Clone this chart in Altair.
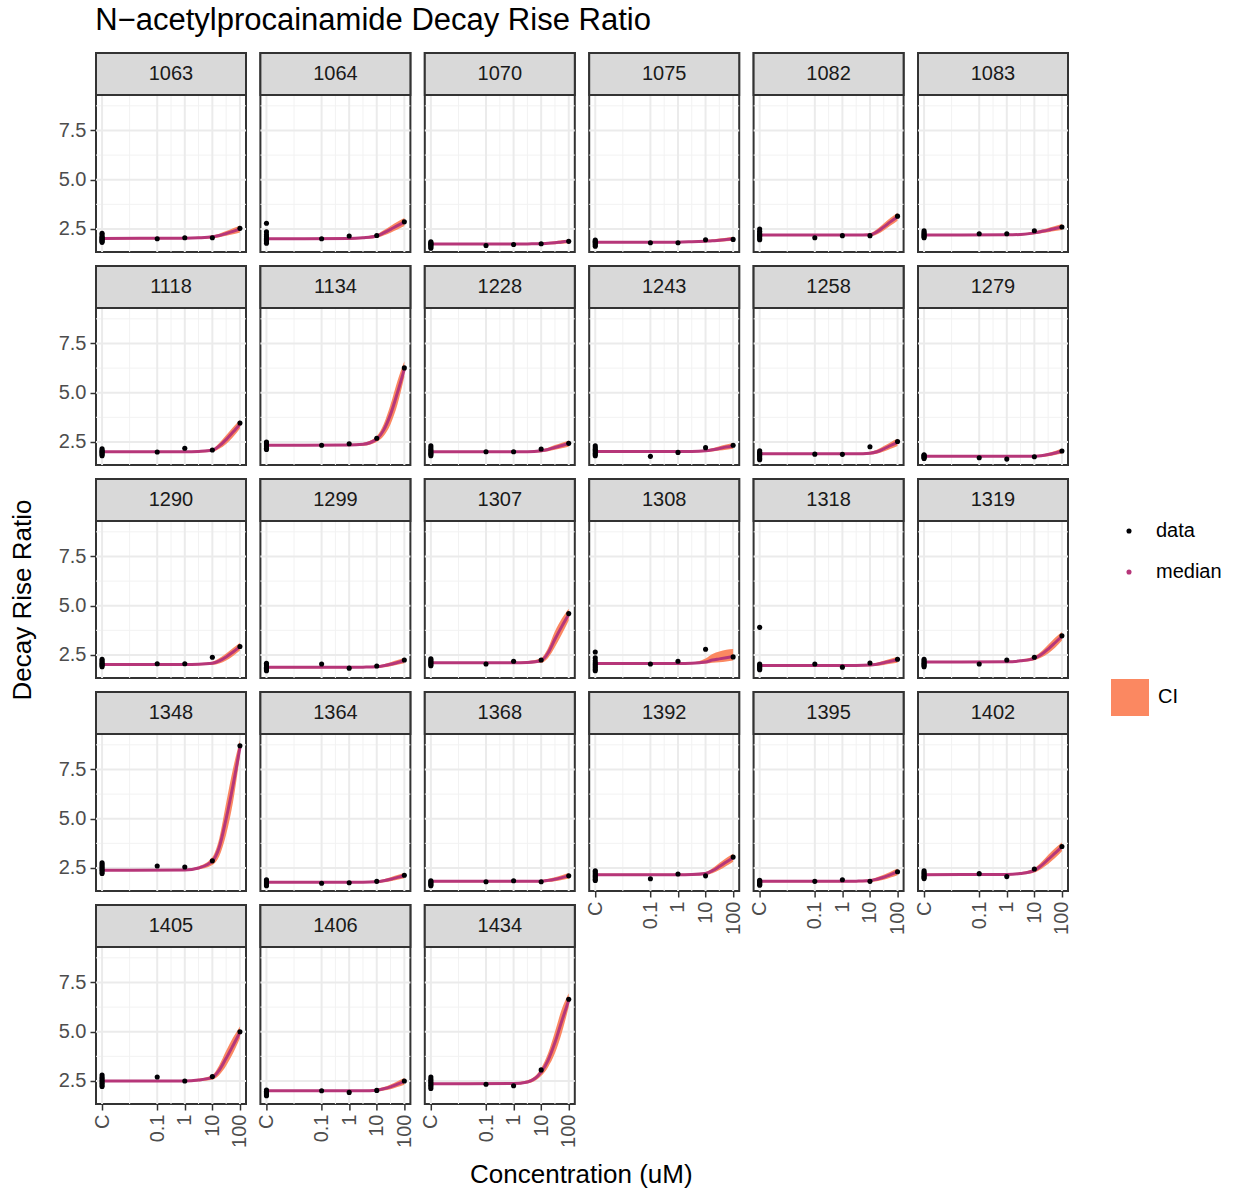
import altair as alt
import pandas as pd

# Facet ids, in the order the panels are laid out (6 per row)
PANELS = ["1063", "1064", "1070", "1075", "1082", "1083",
          "1118", "1134", "1228", "1243", "1258", "1279",
          "1290", "1299", "1307", "1308", "1318", "1319",
          "1348", "1364", "1368", "1392", "1395", "1402",
          "1405", "1406", "1434"]

# Concentration axis is log10(uM); controls ("C") sit at -3
CONC_TICKS = [-3, -1, 0, 1, 2]
CONC_LABELS = ["C", "0.1", "1", "10", "100"]
CONC_MINOR = [-2, -0.5, 0.5, 1.5]
RATIO_TICKS = [2.5, 5.0, 7.5]
RATIO_MINOR = [3.75, 6.25, 8.75]
CONTROL_X = -3
DOSE_X = [-1, 0, 1, 2]
CURVE_X = [-3, 0, 0.5, 1, 1.25, 1.5, 1.75, 2]

# Replicate control measurements per donor
control_values = [
    [1.82, 1.88, 1.93, 1.98, 2.02, 2.06, 2.12, 2.20, 2.28],
    [1.78, 1.85, 1.92, 1.97, 2.02, 2.10, 2.20, 2.35, 2.79],
    [1.52, 1.58, 1.63, 1.68, 1.72, 1.76, 1.80, 1.85],
    [1.62, 1.68, 1.74, 1.80, 1.84, 1.88, 1.94],
    [1.95, 2.02, 2.10, 2.16, 2.22, 2.30, 2.38, 2.50],
    [2.05, 2.10, 2.15, 2.20, 2.26, 2.32, 2.40],
    [1.80, 1.86, 1.92, 1.98, 2.03, 2.08, 2.15],
    [2.12, 2.18, 2.25, 2.30, 2.36, 2.42, 2.50],
    [1.80, 1.87, 1.93, 1.99, 2.05, 2.12, 2.20, 2.30],
    [1.80, 1.86, 1.93, 2.00, 2.06, 2.13, 2.20, 2.30],
    [1.60, 1.66, 1.73, 1.80, 1.86, 1.92, 1.98, 2.05],
    [1.66, 1.70, 1.74, 1.78, 1.82, 1.85],
    [1.90, 1.96, 2.02, 2.08, 2.14, 2.20, 2.28],
    [1.70, 1.76, 1.82, 1.88, 1.94, 2.00, 2.08],
    [1.95, 2.00, 2.06, 2.12, 2.18, 2.24, 2.30],
    [1.70, 1.78, 1.86, 1.94, 2.02, 2.10, 2.20, 2.35, 2.65],
    [1.75, 1.80, 1.86, 1.92, 1.98, 2.04, 3.90],
    [1.90, 1.96, 2.02, 2.08, 2.14, 2.20, 2.28],
    [2.22, 2.30, 2.38, 2.45, 2.52, 2.60, 2.68, 2.76],
    [1.60, 1.65, 1.70, 1.75, 1.80, 1.85, 1.90],
    [1.60, 1.65, 1.70, 1.75, 1.80, 1.85],
    [1.86, 1.93, 2.00, 2.07, 2.14, 2.22, 2.30, 2.36],
    [1.62, 1.67, 1.72, 1.77, 1.82, 1.87],
    [1.96, 2.02, 2.08, 2.14, 2.20, 2.27, 2.35],
    [2.22, 2.30, 2.38, 2.46, 2.54, 2.62, 2.70, 2.80],
    [1.75, 1.80, 1.86, 1.92, 1.98, 2.04],
    [2.12, 2.20, 2.28, 2.36, 2.44, 2.52, 2.60, 2.70],
]

# Measurements at 0.1, 1, 10 and 100 uM
dose_values = [
    [2.00, 2.05, 2.05, 2.53], [2.00, 2.14, 2.17, 2.86], [1.66, 1.71, 1.75, 1.87],
    [1.80, 1.80, 1.95, 1.97], [2.05, 2.16, 2.16, 3.15], [2.26, 2.26, 2.41, 2.60],
    [1.99, 2.18, 2.09, 3.46], [2.33, 2.41, 2.69, 6.26], [2.00, 2.00, 2.14, 2.43],
    [1.77, 1.97, 2.21, 2.33], [1.88, 1.87, 2.26, 2.52], [1.70, 1.63, 1.75, 2.04],
    [2.05, 2.05, 2.38, 2.93], [2.04, 1.83, 1.94, 2.24], [2.04, 2.18, 2.24, 4.60],
    [2.04, 2.18, 2.79, 2.40], [2.04, 1.88, 2.09, 2.28], [2.04, 2.24, 2.38, 3.47],
    [2.60, 2.55, 2.86, 8.70], [1.72, 1.75, 1.82, 2.13], [1.80, 1.85, 1.80, 2.10],
    [1.95, 2.19, 2.10, 3.05], [1.82, 1.90, 1.82, 2.31], [2.21, 2.06, 2.45, 3.59],
    [2.70, 2.50, 2.72, 5.00], [2.00, 1.92, 2.02, 2.50], [2.33, 2.26, 3.06, 6.65],
]

# Posterior median of the fitted curve at CURVE_X
median_curve = [
    [2.02, 2.03, 2.05, 2.10, 2.17, 2.27, 2.38, 2.50],
    [2.00, 2.01, 2.05, 2.14, 2.30, 2.48, 2.67, 2.85],
    [1.73, 1.73, 1.74, 1.75, 1.78, 1.80, 1.84, 1.87],
    [1.83, 1.83, 1.85, 1.88, 1.90, 1.93, 1.96, 2.00],
    [2.19, 2.19, 2.19, 2.20, 2.35, 2.60, 2.87, 3.12],
    [2.19, 2.20, 2.22, 2.30, 2.37, 2.44, 2.52, 2.60],
    [2.00, 2.00, 2.02, 2.08, 2.30, 2.62, 3.00, 3.40],
    [2.33, 2.34, 2.38, 2.65, 3.10, 3.90, 5.00, 6.20],
    [2.00, 2.00, 2.00, 2.05, 2.12, 2.22, 2.32, 2.42],
    [2.02, 2.02, 2.02, 2.05, 2.10, 2.17, 2.24, 2.30],
    [1.90, 1.90, 1.90, 1.93, 2.00, 2.15, 2.32, 2.48],
    [1.77, 1.77, 1.77, 1.78, 1.80, 1.86, 1.94, 2.03],
    [2.02, 2.02, 2.03, 2.08, 2.20, 2.40, 2.65, 2.92],
    [1.87, 1.87, 1.88, 1.90, 1.95, 2.03, 2.12, 2.22],
    [2.10, 2.10, 2.12, 2.22, 2.60, 3.30, 3.95, 4.55],
    [2.07, 2.07, 2.08, 2.14, 2.24, 2.30, 2.36, 2.42],
    [1.97, 1.97, 1.97, 1.99, 2.03, 2.10, 2.18, 2.26],
    [2.14, 2.15, 2.20, 2.33, 2.52, 2.80, 3.12, 3.45],
    [2.38, 2.40, 2.50, 2.85, 3.55, 5.00, 6.70, 8.60],
    [1.78, 1.78, 1.78, 1.80, 1.85, 1.93, 2.02, 2.12],
    [1.82, 1.82, 1.82, 1.83, 1.87, 1.93, 2.01, 2.10],
    [2.16, 2.16, 2.17, 2.22, 2.36, 2.57, 2.80, 3.02],
    [1.82, 1.82, 1.83, 1.86, 1.93, 2.03, 2.16, 2.30],
    [2.16, 2.17, 2.22, 2.38, 2.62, 2.93, 3.25, 3.57],
    [2.50, 2.50, 2.55, 2.68, 3.05, 3.65, 4.30, 4.97],
    [2.00, 2.00, 2.00, 2.03, 2.10, 2.20, 2.34, 2.48],
    [2.36, 2.37, 2.45, 2.95, 3.55, 4.45, 5.55, 6.60],
]

# Credible interval bounds at CURVE_X
ci_low = [
    [1.98, 1.99, 2.00, 2.03, 2.08, 2.15, 2.23, 2.32],
    [1.96, 1.97, 1.99, 2.05, 2.17, 2.31, 2.47, 2.65],
    [1.69, 1.69, 1.70, 1.70, 1.72, 1.72, 1.75, 1.77],
    [1.79, 1.79, 1.81, 1.83, 1.84, 1.85, 1.87, 1.90],
    [2.15, 2.15, 2.15, 2.13, 2.22, 2.42, 2.67, 2.92],
    [2.15, 2.16, 2.17, 2.23, 2.28, 2.33, 2.39, 2.45],
    [1.96, 1.96, 1.97, 2.00, 2.15, 2.40, 2.75, 3.18],
    [2.29, 2.29, 2.31, 2.50, 2.80, 3.40, 4.40, 5.80],
    [1.96, 1.96, 1.96, 1.98, 2.03, 2.10, 2.18, 2.26],
    [1.98, 1.98, 1.98, 1.99, 2.02, 2.06, 2.11, 2.15],
    [1.86, 1.86, 1.86, 1.86, 1.90, 2.01, 2.15, 2.30],
    [1.73, 1.73, 1.73, 1.73, 1.74, 1.78, 1.84, 1.91],
    [1.98, 1.98, 1.98, 2.00, 2.07, 2.22, 2.45, 2.72],
    [1.83, 1.83, 1.84, 1.84, 1.87, 1.93, 2.00, 2.08],
    [2.06, 2.06, 2.06, 2.10, 2.35, 2.90, 3.55, 4.25],
    [2.03, 2.03, 2.04, 2.06, 2.10, 2.13, 2.17, 2.22],
    [1.93, 1.93, 1.93, 1.93, 1.95, 1.99, 2.05, 2.11],
    [2.10, 2.11, 2.14, 2.23, 2.37, 2.58, 2.87, 3.23],
    [2.34, 2.35, 2.42, 2.65, 3.10, 4.20, 5.85, 8.20],
    [1.74, 1.74, 1.74, 1.74, 1.77, 1.83, 1.90, 1.98],
    [1.78, 1.78, 1.78, 1.77, 1.79, 1.83, 1.89, 1.96],
    [2.12, 2.12, 2.12, 2.14, 2.23, 2.39, 2.60, 2.82],
    [1.78, 1.78, 1.78, 1.79, 1.83, 1.90, 2.01, 2.13],
    [2.12, 2.13, 2.16, 2.27, 2.45, 2.70, 3.00, 3.35],
    [2.46, 2.46, 2.49, 2.56, 2.80, 3.27, 3.90, 4.67],
    [1.96, 1.96, 1.96, 1.96, 2.01, 2.08, 2.19, 2.31],
    [2.32, 2.32, 2.37, 2.75, 3.20, 3.90, 4.95, 6.25],
]
ci_high = [
    [2.06, 2.07, 2.10, 2.17, 2.26, 2.39, 2.53, 2.68],
    [2.04, 2.05, 2.11, 2.23, 2.43, 2.65, 2.87, 3.05],
    [1.77, 1.77, 1.78, 1.80, 1.84, 1.88, 1.93, 1.97],
    [1.87, 1.87, 1.89, 1.93, 1.96, 2.01, 2.05, 2.10],
    [2.23, 2.23, 2.23, 2.27, 2.48, 2.78, 3.07, 3.32],
    [2.23, 2.24, 2.27, 2.37, 2.46, 2.55, 2.65, 2.75],
    [2.04, 2.04, 2.07, 2.16, 2.45, 2.84, 3.25, 3.62],
    [2.37, 2.39, 2.45, 2.80, 3.40, 4.40, 5.60, 6.60],
    [2.04, 2.04, 2.04, 2.12, 2.21, 2.34, 2.46, 2.58],
    [2.06, 2.06, 2.06, 2.11, 2.18, 2.28, 2.37, 2.45],
    [1.94, 1.94, 1.94, 2.00, 2.10, 2.29, 2.49, 2.66],
    [1.81, 1.81, 1.81, 1.83, 1.86, 1.94, 2.04, 2.15],
    [2.06, 2.06, 2.08, 2.16, 2.33, 2.58, 2.85, 3.12],
    [1.91, 1.91, 1.92, 1.96, 2.03, 2.13, 2.24, 2.36],
    [2.14, 2.14, 2.18, 2.34, 2.85, 3.70, 4.35, 4.85],
    [2.11, 2.11, 2.13, 2.32, 2.55, 2.68, 2.76, 2.80],
    [2.01, 2.01, 2.01, 2.05, 2.11, 2.21, 2.31, 2.41],
    [2.18, 2.19, 2.26, 2.43, 2.67, 3.02, 3.37, 3.67],
    [2.42, 2.45, 2.58, 3.05, 4.00, 5.80, 7.55, 9.00],
    [1.82, 1.82, 1.82, 1.86, 1.93, 2.03, 2.14, 2.26],
    [1.86, 1.86, 1.86, 1.89, 1.95, 2.03, 2.13, 2.24],
    [2.20, 2.20, 2.22, 2.30, 2.49, 2.75, 3.00, 3.22],
    [1.86, 1.86, 1.88, 1.93, 2.03, 2.16, 2.31, 2.47],
    [2.20, 2.21, 2.28, 2.49, 2.79, 3.16, 3.50, 3.79],
    [2.54, 2.54, 2.61, 2.80, 3.30, 4.03, 4.70, 5.27],
    [2.04, 2.04, 2.04, 2.10, 2.19, 2.32, 2.49, 2.65],
    [2.40, 2.42, 2.53, 3.15, 3.90, 5.00, 6.15, 6.95],
]

DATA_COLOR = "#000004"
MEDIAN_COLOR = "#B63679"
CI_COLOR = "#FB8861"
GRID_MAJOR = "#EBEBEB"
GRID_MINOR = "#F2F2F2"
BORDER = "#333333"
FONT = "Liberation Sans"

NCOL = 6
W, H, STRIP = 150, 199, 42          # panel width, panel height incl. strip, strip height
HSPACE, VSPACE = 14.4, 14
XDOM = [-3.22, 2.22]
YDOM = [1.33, 9.3]
POINT_SIZE = 26

conc_label_expr = "''"
for v, lab in reversed(list(zip(CONC_TICKS, CONC_LABELS))):
    conc_label_expr = f"datum.value == {v} ? '{lab}' : ({conc_label_expr})"


def make_panel(i):
    pid = PANELS[i]
    col = i % NCOL
    show_x = i + NCOL >= len(PANELS)
    show_y = col == 0

    xs = alt.Scale(domain=XDOM, nice=False, zero=False)
    ys = alt.Scale(domain=YDOM, nice=False, zero=False, range=[H, STRIP])

    if show_x:
        xkw = dict(values=CONC_TICKS, labelExpr=conc_label_expr, labelAngle=270,
                   labelAlign="right", labelBaseline="middle", labelFontSize=20,
                   labelColor="#4D4D4D", labelPadding=4, tickColor=BORDER,
                   tickWidth=1.5, tickSize=6, domain=False, grid=False, title=None)
        if pid == "1434":
            xkw.update(title="Concentration (uM)", titleX=156, titleY=70,
                       titleAlign="center", titleBaseline="middle", titleFontSize=26,
                       titleFontWeight="normal", titleColor="#000000")
        xaxis = alt.Axis(**xkw)
    else:
        xaxis = None

    if show_y:
        ykw = dict(values=RATIO_TICKS, format=".1f", labelFontSize=20,
                   labelColor="#4D4D4D", labelPadding=4, tickColor=BORDER,
                   tickWidth=1.5, tickSize=6, domain=False, grid=False, title=None)
        if pid == "1290":
            ykw.update(title="Decay Rise Ratio", titleFontSize=26, titlePadding=23,
                       titleFontWeight="normal", titleColor="#000000")
        yaxis = alt.Axis(**ykw)
    else:
        yaxis = None

    def X(field):
        return alt.X(f"{field}:Q", scale=xs, axis=xaxis)

    def Y(field):
        return alt.Y(f"{field}:Q", scale=ys, axis=yaxis)

    ctrl = control_values[i]
    pts = pd.DataFrame({
        "logx": [CONTROL_X] * len(ctrl) + DOSE_X,
        "ratio": ctrl + dose_values[i],
    })
    curve = pd.DataFrame({
        "logx": CURVE_X,
        "med": median_curve[i],
        "lo": ci_low[i],
        "hi": ci_high[i],
    })

    vminor = alt.Chart(pd.DataFrame({"g": CONC_MINOR})).mark_rule(
        color=GRID_MINOR, strokeWidth=1).encode(x=X("g"), y=alt.value(STRIP), y2=alt.value(H))
    hminor = alt.Chart(pd.DataFrame({"g": RATIO_MINOR})).mark_rule(
        color=GRID_MINOR, strokeWidth=1).encode(y=Y("g"), x=alt.value(0), x2=alt.value(W))
    vmajor = alt.Chart(pd.DataFrame({"g": CONC_TICKS})).mark_rule(
        color=GRID_MAJOR, strokeWidth=2).encode(x=X("g"), y=alt.value(STRIP), y2=alt.value(H))
    hmajor = alt.Chart(pd.DataFrame({"g": RATIO_TICKS})).mark_rule(
        color=GRID_MAJOR, strokeWidth=2).encode(y=Y("g"), x=alt.value(0), x2=alt.value(W))

    band = alt.Chart(curve).mark_area(color=CI_COLOR, opacity=1, interpolate="monotone").encode(
        x=X("logx"), y=Y("lo"), y2="hi")
    line = alt.Chart(curve).mark_line(color=MEDIAN_COLOR, strokeWidth=3, interpolate="monotone").encode(
        x=X("logx"), y=Y("med"))
    dots = alt.Chart(pts).mark_circle(color=DATA_COLOR, size=POINT_SIZE, opacity=1).encode(
        x=X("logx"), y=Y("ratio"))

    strip_df = pd.DataFrame({"panel": [pid]})
    strip = alt.Chart(strip_df).mark_rect(fill="#D9D9D9", stroke=BORDER, strokeWidth=2).encode(
        x=alt.value(0), x2=alt.value(W), y=alt.value(0), y2=alt.value(STRIP))
    strip_text = alt.Chart(strip_df).mark_text(
        fontSize=20, color="#1A1A1A", align="center", baseline="middle").encode(
        x=alt.value(W / 2), y=alt.value(STRIP / 2), text="panel:N")

    return alt.layer(vminor, hminor, vmajor, hmajor, band, line, dots, strip, strip_text).properties(
        width=W, height=H)


panels = [make_panel(i) for i in range(len(PANELS))]
grid = alt.concat(*panels, columns=NCOL, spacing={"row": VSPACE, "column": HSPACE}, bounds="flush")

GRID_H = 5 * H + 4 * VSPACE
leg_data = pd.DataFrame({"t": ["data"]})
leg_med = pd.DataFrame({"t": ["median"]})
leg_ci = pd.DataFrame({"t": ["CI"]})
legend = alt.layer(
    alt.Chart(leg_data).mark_circle(color=DATA_COLOR, size=POINT_SIZE, opacity=1).encode(
        x=alt.value(50), y=alt.value(478)),
    alt.Chart(leg_data).mark_text(align="left", baseline="middle", fontSize=20, color="#000000").encode(
        x=alt.value(77), y=alt.value(478), text="t:N"),
    alt.Chart(leg_med).mark_circle(color=MEDIAN_COLOR, size=POINT_SIZE, opacity=1).encode(
        x=alt.value(50), y=alt.value(519)),
    alt.Chart(leg_med).mark_text(align="left", baseline="middle", fontSize=20, color="#000000").encode(
        x=alt.value(77), y=alt.value(519), text="t:N"),
    alt.Chart(leg_ci).mark_rect(color=CI_COLOR).encode(
        x=alt.value(32), x2=alt.value(70), y=alt.value(626), y2=alt.value(663)),
    alt.Chart(leg_ci).mark_text(align="left", baseline="middle", fontSize=20, color="#000000").encode(
        x=alt.value(79), y=alt.value(644), text="t:N"),
).properties(width=130, height=GRID_H, view=alt.ViewBackground(stroke="transparent"))

chart = alt.hconcat(grid, legend, spacing=5).properties(
    title=alt.TitleParams("N\u2212acetylprocainamide Decay Rise Ratio", anchor="start",
                          fontSize=31, fontWeight="normal", color="#000000", dx=87, offset=14),
    padding={"left": 8, "top": 5, "right": 5, "bottom": 5},
).configure(font=FONT).configure_view(stroke=BORDER, strokeWidth=2)

chart.save("out.html", embed_options={"renderer": "svg", "actions": False})
